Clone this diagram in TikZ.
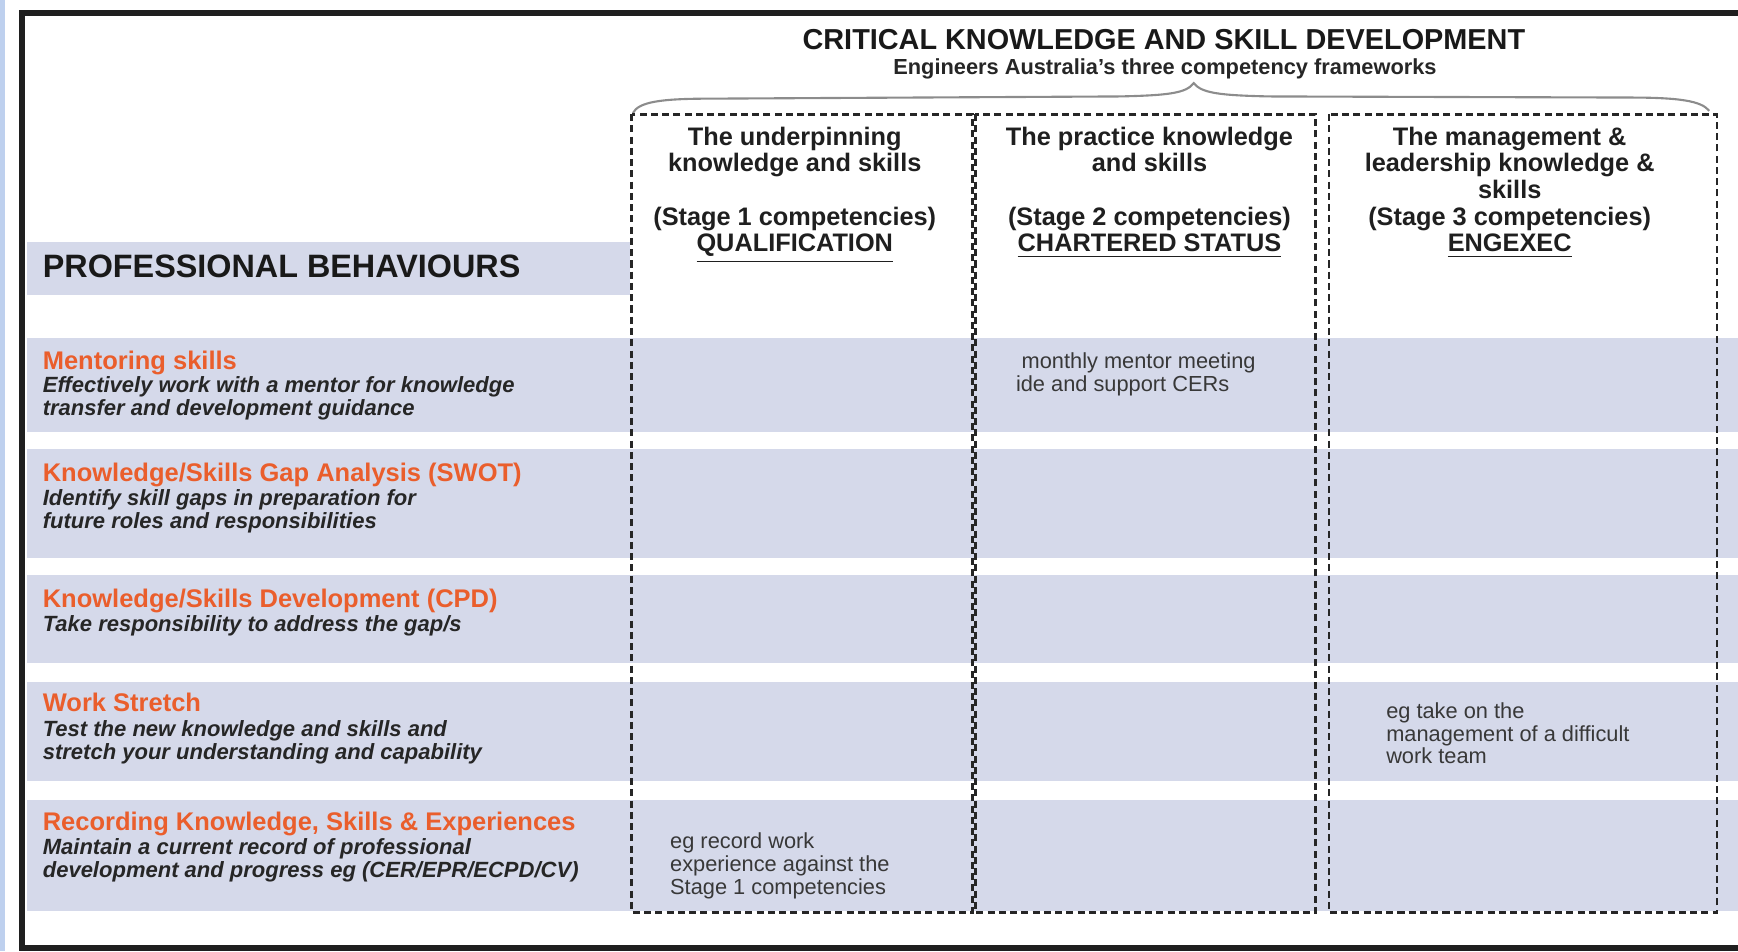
\documentclass[tikz,border=0pt]{standalone}
\usepackage{fontspec}
\setmainfont{Liberation Sans}
\definecolor{band}{RGB}{213,217,234}
\definecolor{rowtitle}{RGB}{234,94,44}
\definecolor{stripblue}{RGB}{190,208,238}

\begin{document}
\begin{tikzpicture}[x=0.011084cm, y=-0.011084cm,
  row/.style={fill=band},
  column/.style={draw=black!85, line width=0.8pt, dash pattern=on 2pt off 1.2pt},
  behaviour/.style={anchor=base west, inner sep=0, text=rowtitle, font=\fontsize{7.25}{8}\selectfont\bfseries},
  explain/.style={anchor=north west, inner sep=0, align=left, text=black!85, font=\fontsize{6.26}{6.6}\selectfont\bfseries\itshape},
  heading/.style={anchor=north, inner sep=0, align=center, text=black!88, font=\fontsize{7.2}{7.55}\selectfont\bfseries},
  example/.style={anchor=north west, inner sep=0, align=left, text=black!78, font=\fontsize{6.2}{6.5}\selectfont}]
\useasboundingbox (0,0) rectangle (1568,858);
\fill [stripblue] (0,0) rectangle (4.5,858);
% bands behind the rows
\fill [row] (24,218) rectangle (568,266);
\fill [row] (24,305) rectangle (1568,390);
\fill [row] (24,405) rectangle (1568,503);
\fill [row] (24,519) rectangle (1568,598);
\fill [row] (24,615) rectangle (1568,705);
\fill [row] (24,722) rectangle (1568,822);
\draw [line width=1.7pt, black!88] (20,12) rectangle (1600,855);
% brace over the three frameworks
\draw [black!45, line width=0.6pt] (571,102) .. controls (576,92) and (596,89) .. (640,89) -- (1010,87) .. controls (1055,86) and (1070,84) .. (1077,75) .. controls (1084,84) and (1100,86) .. (1145,87) -- (1470,88) .. controls (1515,88) and (1535,91) .. (1542,100);
\draw [column] (570,103) rectangle (877,823);
\draw [column] (880,103) rectangle (1187,823);
\draw [column] (1199,103) rectangle (1549,823);
% titles
\node [anchor=base, inner sep=0, text=black!90, font=\fontsize{8.2}{9}\selectfont\bfseries] (title) at (1050,45) {CRITICAL KNOWLEDGE AND SKILL DEVELOPMENT};
\node [anchor=base, inner sep=0, text=black!85, font=\fontsize{6.2}{7}\selectfont\bfseries] (subtitle) at (1051,67) {Engineers Australia's three competency frameworks};
\node [heading] (underpin) at (717,114) {The underpinning\\knowledge and skills\\~\\(Stage 1 competencies)\\\underline{QUALIFICATION}};
\node [heading] (practice) at (1037,114) {The practice knowledge\\and skills\\~\\(Stage 2 competencies)\\\underline{CHARTERED STATUS}};
\node [heading] (manage) at (1362,114) {The management \&\\leadership knowledge \&\\skills\\(Stage 3 competencies)\\\underline{ENGEXEC}};
\node [anchor=base west, inner sep=0, text=black!90, font=\fontsize{9.2}{10}\selectfont\bfseries] (behaviours) at (38,250) {PROFESSIONAL BEHAVIOURS};
% rows
\node [behaviour] (mentor) at (38,333) {Mentoring skills};
\node [explain] (mentordesc) at (38,339) {Effectively work with a mentor for knowledge\\transfer and development guidance};
\node [behaviour] (swot) at (38,434) {Knowledge/Skills Gap Analysis (SWOT)};
\node [explain] (swotdesc) at (38,441) {Identify skill gaps in preparation for\\future roles and responsibilities};
\node [behaviour] (cpd) at (38,548) {Knowledge/Skills Development (CPD)};
\node [explain] (cpddesc) at (38,555) {Take responsibility to address the gap/s};
\node [behaviour] (stretch) at (38,642) {Work Stretch};
\node [explain] (stretchdesc) at (38,649) {Test the new knowledge and skills and\\stretch your understanding and capability};
\node [behaviour] (record) at (38,749) {Recording Knowledge, Skills \& Experiences};
\node [explain] (recorddesc) at (38,756) {Maintain a current record of professional\\development and progress eg (CER/EPR/ECPD/CV)};
% notes in the cells
\node [example] (mentornote) at (916,318) {\hspace*{1.6pt}monthly mentor meeting\\ide and support CERs};
\node [example] (stretchnote) at (1250,633) {eg take on the\\management of a difficult\\work team};
\node [example] (recordnote) at (604,751) {eg record work\\experience against the\\Stage 1 competencies};
\end{tikzpicture}
\end{document}
